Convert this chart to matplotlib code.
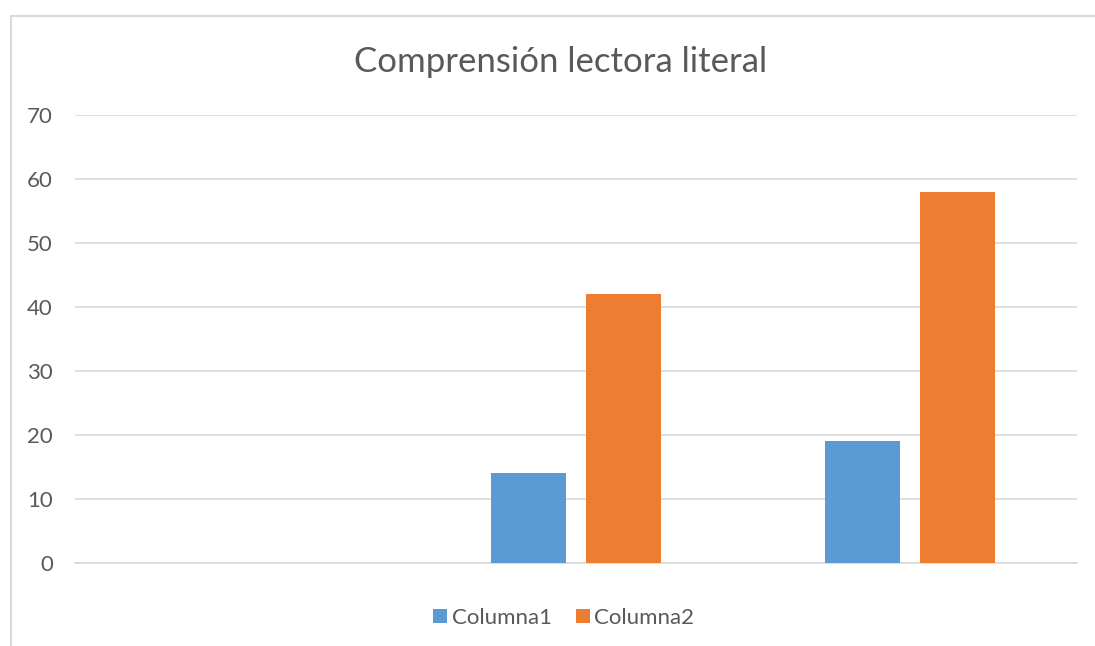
import numpy as np
import matplotlib.pyplot as plt
from matplotlib.patches import Rectangle

plt.rcParams['font.family'] = ['Lato', 'DejaVu Sans']

# data; first category has no values
categories = ["", "", ""]
columna1 = [0, 14, 19]
columna2 = [0, 42, 58]
yticks = [0, 10, 20, 30, 40, 50, 60, 70]

blue = '#5B9BD5'
orange = '#ED7D31'
grid = '#D9D9D9'
txt = '#595959'

fig = plt.figure(figsize=(10.95, 6.46), dpi=100)
# chart frame (cropped on right and bottom like the screenshot)
fig.patches.append(Rectangle((11 / 1095, -0.1), 1.2, (646 - 16) / 646 + 0.1,
                             transform=fig.transFigure, fill=False,
                             edgecolor=grid, linewidth=1.5))

ax = fig.add_axes([75 / 1095, 83 / 646, 1002 / 1095, 448 / 646])
x = np.arange(len(categories))
w = 0.225
off = 0.1425
v1 = [v if v else np.nan for v in columna1]
v2 = [v if v else np.nan for v in columna2]
ax.bar(x - off, v1, w, color=blue, label='Columna1', zorder=3)
ax.bar(x + off, v2, w, color=orange, label='Columna2', zorder=3)

ax.set_xlim(-0.5, len(categories) - 0.5)
ax.set_ylim(0, 70)
ax.set_yticks(yticks)
ax.set_xticks(x)
ax.set_xticklabels(categories)
ax.yaxis.grid(True, color=grid, linewidth=1.2, zorder=0)
ax.tick_params(axis='both', length=0, labelsize=16, labelcolor=txt, pad=16)
for s in ['top', 'right', 'left']:
    ax.spines[s].set_visible(False)
ax.spines['bottom'].set_color(grid)
ax.spines['bottom'].set_linewidth(1.2)

fig.text(0.512, 1 - 62 / 646, 'Comprensión lectora literal', ha='center', va='center',
         fontsize=25, color=txt)

fig.legend(loc='center', bbox_to_anchor=(0.515, 1 - 618 / 646), ncol=2, frameon=False,
           fontsize=16, handlelength=0.62, handleheight=0.62, handletextpad=0.2,
           columnspacing=1.1, labelcolor=txt)

fig.savefig('out.png', dpi=100)
